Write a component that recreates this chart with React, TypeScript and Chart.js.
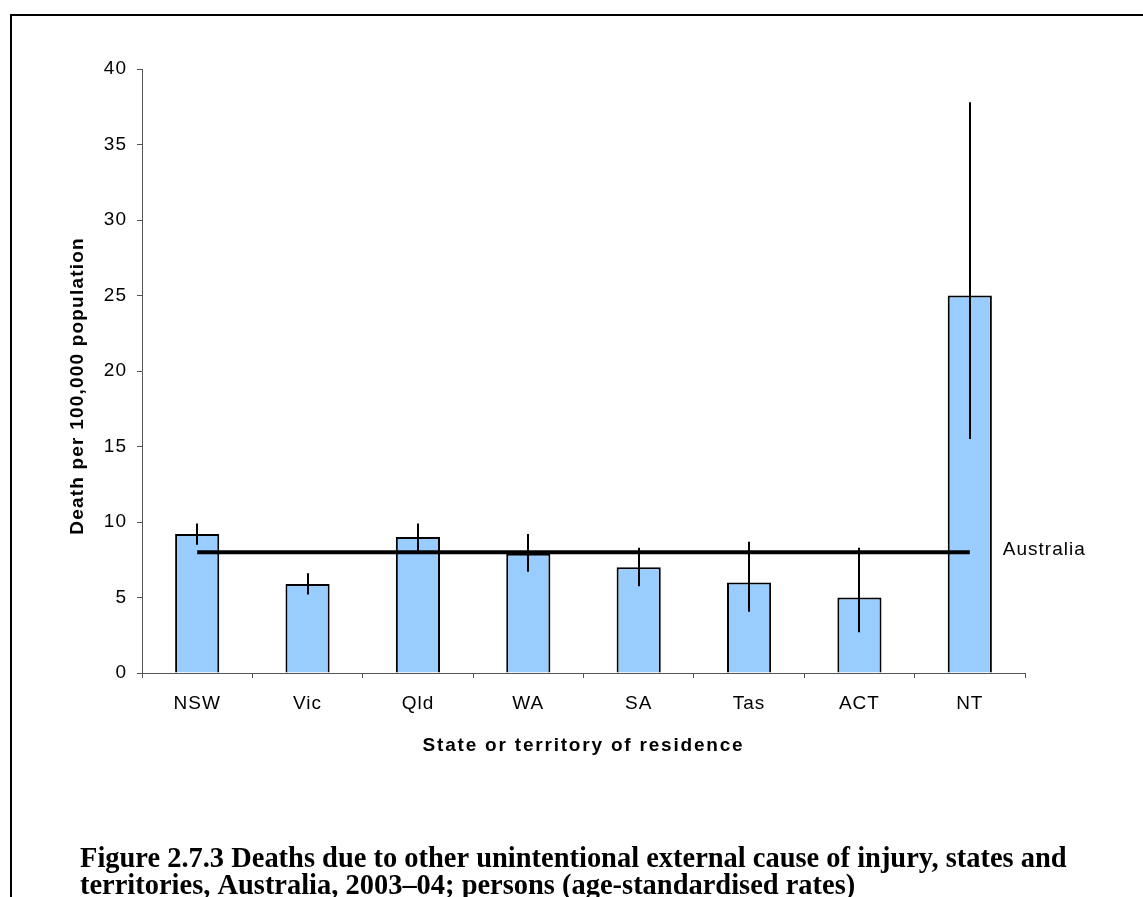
import React, { useEffect, useRef } from 'react';
import { Chart, registerables } from 'chart.js';

Chart.register(...registerables);

const categories = ['NSW', 'Vic', 'Qld', 'WA', 'SA', 'Tas', 'ACT', 'NT'];
const rates = [9.2, 5.9, 9.0, 7.9, 7.0, 6.0, 5.0, 25.0];
const lowerCI = [8.5, 5.2, 8.1, 6.7, 5.75, 4.05, 2.7, 15.5];
const upperCI = [9.9, 6.6, 9.9, 9.2, 8.3, 8.7, 8.3, 37.8];
const australiaRate = 8.0;
const australiaLabel = 'Australia';
const yMin = 0;
const yMax = 40;
const yStep = 5;
const yTitle = 'Death per 100,000 population';
const xTitle = 'State or territory of residence';
const captionLines = [
  'Figure 2.7.3 Deaths due to other unintentional external cause of injury, states and',
  'territories, Australia, 2003\u201304; persons (age-standardised rates)',
];

const SANS = "'Liberation Sans', Arial, sans-serif";
const SERIF = "'Liberation Serif', 'Times New Roman', serif";

const overlayPlugin = {
  id: 'overlay',
  beforeDraw(chart: any) {
    const ctx = chart.ctx;
    ctx.save();
    ctx.fillStyle = '#ffffff';
    ctx.fillRect(0, 0, chart.width, chart.height);
    ctx.restore();
    (ctx as any).letterSpacing = '1px';
  },
  afterDatasetsDraw(chart: any) {
    const ctx = chart.ctx;
    const yScale = chart.scales.y;
    const meta = chart.getDatasetMeta(0);
    ctx.save();
    ctx.strokeStyle = '#000000';
    ctx.lineWidth = 2;
    meta.data.forEach((bar: any, i: number) => {
      const x = Math.round(bar.x);
      ctx.beginPath();
      ctx.moveTo(x, yScale.getPixelForValue(lowerCI[i]));
      ctx.lineTo(x, yScale.getPixelForValue(upperCI[i]));
      ctx.stroke();
    });
    ctx.restore();
  },
  afterDraw(chart: any) {
    const ctx = chart.ctx;
    const area = chart.chartArea;
    const yScale = chart.scales.y;
    ctx.save();
    // frame
    ctx.strokeStyle = '#000000';
    ctx.lineWidth = 2;
    ctx.beginPath();
    ctx.moveTo(11, chart.height);
    ctx.lineTo(11, 15);
    ctx.lineTo(chart.width, 15);
    ctx.stroke();

    ctx.fillStyle = '#000000';
    // Australia label
    const lineMeta = chart.getDatasetMeta(1);
    const last = lineMeta.data[lineMeta.data.length - 1];
    (ctx as any).letterSpacing = '1px';
    ctx.font = `19px ${SANS}`;
    ctx.textAlign = 'left';
    ctx.textBaseline = 'middle';
    ctx.fillText(australiaLabel, last.x + 33, yScale.getPixelForValue(australiaRate) - 2);

    // x title
    ctx.font = `bold 19px ${SANS}`;
    ctx.textAlign = 'center';
    ctx.textBaseline = 'middle';
    (ctx as any).letterSpacing = '1.8px';
    ctx.fillText(xTitle, (area.left + area.right) / 2, area.bottom + 73);

    // y title
    (ctx as any).letterSpacing = '1.2px';
    ctx.save();
    ctx.translate(area.left - 64, (area.top + area.bottom) / 2 + 15);
    ctx.rotate(-Math.PI / 2);
    ctx.fillText(yTitle, 0, 0);
    ctx.restore();

    // caption
    (ctx as any).letterSpacing = '0px';
    ctx.font = `bold 25px ${SERIF}`;
    const w0 = ctx.measureText(captionLines[0]).width;
    const size = Math.min(30, (25 * 987) / w0);
    ctx.font = `bold ${size}px ${SERIF}`;
    ctx.textAlign = 'left';
    ctx.textBaseline = 'alphabetic';
    captionLines.forEach((line, i) => {
      ctx.fillText(line, 80, 867 + i * 27);
    });
    ctx.restore();
  },
};

export default function App() {
  const ref = useRef<HTMLCanvasElement | null>(null);
  useEffect(() => {
    if (!ref.current) return;
    const chart = new Chart(ref.current, {
      type: 'bar',
      data: {
        labels: categories,
        datasets: [
          {
            type: 'bar',
            label: 'Rate',
            data: rates,
            backgroundColor: '#99CCFF',
            borderColor: '#000000',
            borderWidth: 2,
            categoryPercentage: 1,
            barPercentage: 0.4,
            order: 1,
          },
          {
            type: 'line',
            label: australiaLabel,
            data: categories.map(() => australiaRate),
            borderColor: '#000000',
            borderWidth: 4,
            pointRadius: 0,
            fill: false,
            order: 0,
          } as any,
        ],
      },
      options: {
        responsive: false,
        animation: false,
        events: [],
        layout: { padding: { top: 69, right: 118, bottom: 164, left: 0 } },
        plugins: {
          legend: { display: false },
          tooltip: { enabled: false },
          title: { display: false },
        },
        scales: {
          x: {
            type: 'category',
            offset: true,
            grid: {
              display: true,
              drawOnChartArea: false,
              drawTicks: true,
              tickLength: 5,
              color: '#555555',
              offset: true,
            },
            border: { display: true, color: '#555555', width: 1 },
            ticks: {
              color: '#000000',
              font: { family: SANS, size: 19 },
              padding: 14,
              maxRotation: 0,
              autoSkip: false,
            },
            afterFit(scale: any) {
              scale.height = 60;
            },
          },
          y: {
            min: yMin,
            max: yMax,
            grid: {
              display: true,
              drawOnChartArea: false,
              drawTicks: true,
              tickLength: 5,
              color: '#555555',
            },
            border: { display: true, color: '#555555', width: 1 },
            ticks: {
              stepSize: yStep,
              color: '#000000',
              font: { family: SANS, size: 19 },
              padding: 10,
            },
            afterFit(scale: any) {
              scale.width = 142;
            },
          },
        },
      },
      plugins: [overlayPlugin],
    });
    return () => chart.destroy();
  }, []);
  return (
    <div style={{ position: 'fixed', left: 0, top: 0, width: 1143, height: 897, background: '#fff' }}>
      <canvas ref={ref} width={1143} height={897} style={{ display: 'block' }} />
    </div>
  );
}
